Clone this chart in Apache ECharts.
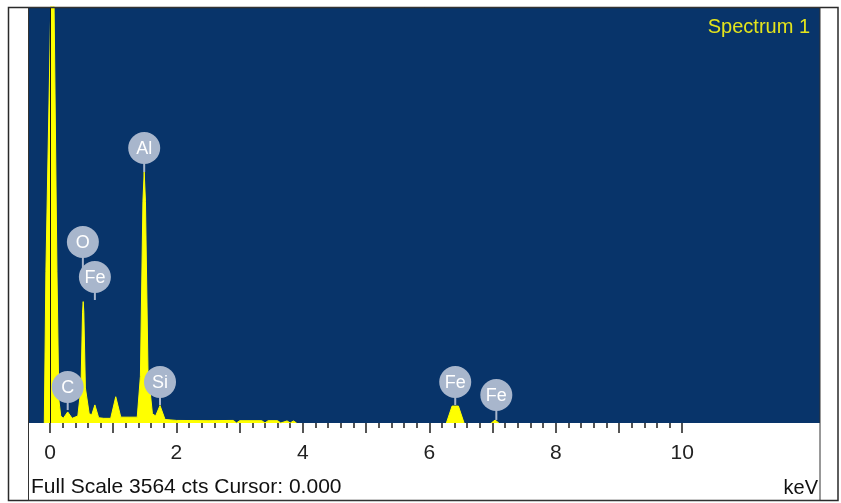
<!DOCTYPE html>
<html>
<head>
<meta charset="utf-8">
<title>Spectrum 1</title>
<script src="https://cdn.jsdelivr.net/npm/echarts@6/dist/echarts.min.js"></script>
<style>
  html, body { margin: 0; padding: 0; background: #ffffff; }
  #chart { width: 841px; height: 503px; }
</style>
</head>
<body>
<div id="chart"></div>
<script>
// EDS spectrum: energy (keV) against counts; null marks a stretch with no counts
const energy = [
  -0.09, -0.065, 0.02, 0.06, 0.11, 0.14, 0.17, 0.21, 0.28, 0.35, 0.44,
  0.49, 0.515, 0.525, 0.535, 0.56, 0.62, 0.66, 0.71, 0.77, 0.85, 0.96, 1.04, 1.12, 1.25,
  1.38, 1.43, 1.47, 1.49, 1.51, 1.55, 1.62, 1.67, 1.74, 1.82, 2.0, 2.5, 2.9, 2.95, 3.0,
  3.35, 3.4, 3.45, 3.6, 3.65, 3.75, 3.8, 3.85, 3.9,
  5.0,
  6.27, 6.36, 6.46, 6.55,
  6.8,
  6.98, 7.04, 7.10
];
const counts = [
  0, 1300, 3800, 3800, 1300, 200, 60, 40, 95, 40, 60,
  300, 950, 1040, 950, 300, 80, 70, 155, 45, 40, 40, 225, 50, 50,
  50, 400, 1900, 2150, 1900, 450, 80, 60, 150, 30, 22, 20, 22, 0, 20,
  20, 0, 20, 20, 0, 18, 0, 18, 0,
  null,
  0, 145, 145, 0,
  null,
  0, 25, 0
];

// Element markers: symbol, energy, marker height, height where the stem ends
const elementNames = ['C', 'O', 'Fe', 'Al', 'Si', 'Fe', 'Fe'];
const elementEnergy = [0.28, 0.52, 0.71, 1.49, 1.74, 6.41, 7.06];
const elementLevel = [308, 1551, 1251, 2356, 351, 351, 240];
const elementStemEnd = [111, 1251, 1054, 2150, 154, 154, 26];

// Axis ticks and labels (keV)
const majorTicks = [0, 1, 2, 3, 4, 5, 6, 7, 8, 9, 10];
const tickLabels = [0, 2, 4, 6, 8, 10];
const minorTicks = [];
for (let i = 0; i <= 50; i++) minorTicks.push(+(i * 0.2).toFixed(1));

const fullScale = 3564;

const FONT = '"Liberation Sans", Arial, sans-serif';
const markerColor = '#a8b6cc';

const chart = echarts.init(document.getElementById('chart'), null, { renderer: 'canvas' });

const baseAxis = {
  type: 'value',
  min: -0.348,
  max: 12.18,
  position: 'bottom',
  offset: 0,
  axisLine: { show: false },
  splitLine: { show: false }
};

chart.setOption({
  animation: false,
  backgroundColor: '#ffffff',
  grid: {
    left: 28, right: 21, top: 7, bottom: 80,
    show: true, backgroundColor: '#08346a', borderWidth: 0
  },
  xAxis: [
    Object.assign({}, baseAxis, {
      axisTick: {
        show: true, length: 10, customValues: majorTicks,
        lineStyle: { color: '#1e1e1e', width: 1.5 }
      },
      axisLabel: {
        show: true, customValues: tickLabels, margin: 20,
        color: '#222', fontFamily: FONT, fontSize: 21,
        formatter: v => String(v)
      }
    }),
    Object.assign({}, baseAxis, {
      axisTick: {
        show: true, length: 5, customValues: minorTicks,
        lineStyle: { color: '#1e1e1e', width: 1.5 }
      },
      axisLabel: { show: false }
    })
  ],
  yAxis: {
    type: 'value', min: 0, max: fullScale, show: false,
    splitLine: { show: false }
  },
  series: [
    {
      type: 'line',
      xAxisIndex: 0,
      data: energy.map((e, i) => [e, counts[i] === null ? '-' : counts[i]]),
      connectNulls: false,
      showSymbol: false,
      lineStyle: { color: '#ffff00', width: 1 },
      areaStyle: { color: '#ffff00', opacity: 1 },
      markLine: {
        silent: true,
        symbol: 'none',
        label: { show: false },
        lineStyle: { color: '#151515', width: 1, type: 'solid' },
        data: [{ xAxis: 0 }]
      },
      z: 2
    },
    {
      type: 'custom',
      xAxisIndex: 0,
      data: elementEnergy.map((e, i) => [e, elementLevel[i], elementStemEnd[i]]),
      encode: { x: 0, y: 1 },
      clip: false,
      z: 5,
      renderItem: function (params, api) {
        const c = api.coord([api.value(0), api.value(1)]);
        const end = api.coord([api.value(0), api.value(2)]);
        return {
          type: 'group',
          children: [
            {
              type: 'line',
              shape: { x1: c[0], y1: c[1], x2: end[0], y2: end[1] },
              style: { stroke: markerColor, lineWidth: 2 }
            },
            {
              type: 'circle',
              shape: { cx: c[0], cy: c[1], r: 16 },
              style: { fill: markerColor }
            },
            {
              type: 'text',
              x: c[0], y: c[1] + 1,
              style: {
                text: elementNames[params.dataIndex],
                fill: '#ffffff',
                font: '18px ' + FONT,
                align: 'center',
                verticalAlign: 'middle'
              }
            }
          ]
        };
      }
    }
  ],
  graphic: [
    {
      type: 'rect', z: 10, silent: true,
      shape: { x: 8.5, y: 7.5, width: 829.5, height: 493 },
      style: { fill: null, stroke: '#2a2a2a', lineWidth: 1.5 }
    },
    {
      type: 'rect', z: 10, silent: true,
      shape: { x: 28.5, y: 7.5, width: 791.5, height: 493 },
      style: { fill: null, stroke: '#333333', lineWidth: 1 }
    },
    {
      type: 'text', z: 10, silent: true,
      x: 810, y: 27,
      style: {
        text: 'Spectrum 1', fill: '#e4e41c',
        font: '20px ' + FONT, align: 'right', verticalAlign: 'middle'
      }
    },
    {
      type: 'text', z: 10, silent: true,
      x: 31, y: 487,
      style: {
        text: 'Full Scale ' + fullScale + ' cts Cursor: 0.000', fill: '#111111',
        font: '21px ' + FONT, align: 'left', verticalAlign: 'middle'
      }
    },
    {
      type: 'text', z: 10, silent: true,
      x: 818, y: 488,
      style: {
        text: 'keV', fill: '#111111',
        font: '20px ' + FONT, align: 'right', verticalAlign: 'middle'
      }
    }
  ]
});
</script>
</body>
</html>
